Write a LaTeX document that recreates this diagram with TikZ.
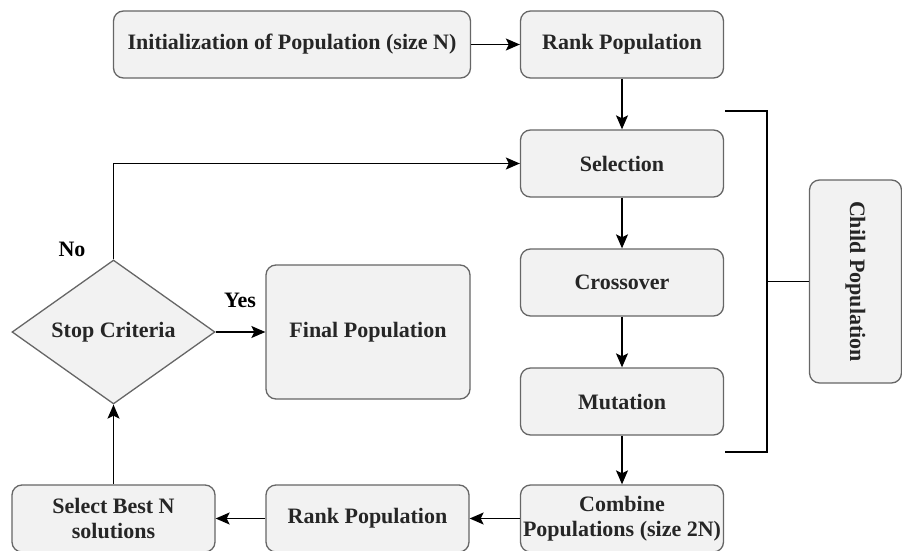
\documentclass[tikz,border=0pt]{standalone}
\usepackage{fontspec}
\setmainfont{Liberation Serif}
\newfontfamily\diagfont{Liberation Serif}
\usetikzlibrary{arrows.meta}
\usetikzlibrary{shapes.geometric}

\begin{document}
\begin{tikzpicture}[x=1pt,y=-1pt,
        stepbox/.style={draw=black!60,fill=black!5,line width=1.3pt,rounded corners=10pt,
                minimum width=203pt,minimum height=67pt,inner sep=2pt,align=center,
                font=\diagfont\fontsize{22}{25}\selectfont\bfseries,text=black!85},
        decision/.style={diamond,draw=black!60,fill=black!5,line width=1.3pt,
                minimum width=203pt,minimum height=134pt,inner sep=0pt,
                font=\diagfont\fontsize{22}{25}\selectfont\bfseries,text=black!85},
        flow/.style={line width=1.4pt,-{Stealth[length=14pt,width=12pt,inset=3pt]}},
        tag/.style={font=\diagfont\fontsize{22}{25}\selectfont\bfseries}]
        \useasboundingbox (0,0) rectangle (902,551);
        % main loop
        \node[stepbox,minimum width=357pt] (init) at (292,44.5) {Initialization of Population (size N)};
        \node[stepbox] (rank1) at (622,44.5) {Rank Population};
        \node[stepbox] (sel) at (622,163.5) {Selection};
        \node[stepbox] (cross) at (622,282.5) {Crossover};
        \node[stepbox] (mut) at (622,401.5) {Mutation};
        \node[stepbox] (comb) at (622,518.5) {Combine\\Populations (size 2N)};
        \node[stepbox] (rank2) at (367.5,518.5) {Rank Population};
        \node[stepbox] (best) at (113.5,518.5) {Select Best N\\solutions};
        \node[decision] (stop) at (113.5,332) {Stop Criteria};
        \node[stepbox,minimum width=204pt,minimum height=134pt] (final) at (368,332) {Final Population};
        \node[stepbox,minimum width=203pt,minimum height=92pt,rotate=-90] (child) at (855.5,281.5) {Child Population};
        \draw[flow] (init) -- (rank1);
        \draw[flow] (rank1) -- (sel);
        \draw[flow] (sel) -- (cross);
        \draw[flow] (cross) -- (mut);
        \draw[flow] (mut) -- (comb);
        \draw[flow] (comb) -- (rank2);
        \draw[flow] (rank2) -- (best);
        \draw[flow] (best) -- (stop);
        \draw[flow] (stop) -- (final);
        \draw[flow] (stop.north) |- (sel);
        \node[tag] (no) at (72,249) {No};
        \node[tag] (yes) at (240,300) {Yes};
        % bracket round the child steps
        \coordinate (brtop) at (725,111);
        \coordinate (brbot) at (725,452);
        \coordinate (brmid) at (767,281.5);
        \draw[line width=1.4pt] (brtop) -| (brmid) |- (brbot);
        \draw[line width=1.4pt] (brmid) -- (child.south);
\end{tikzpicture}
\end{document}
